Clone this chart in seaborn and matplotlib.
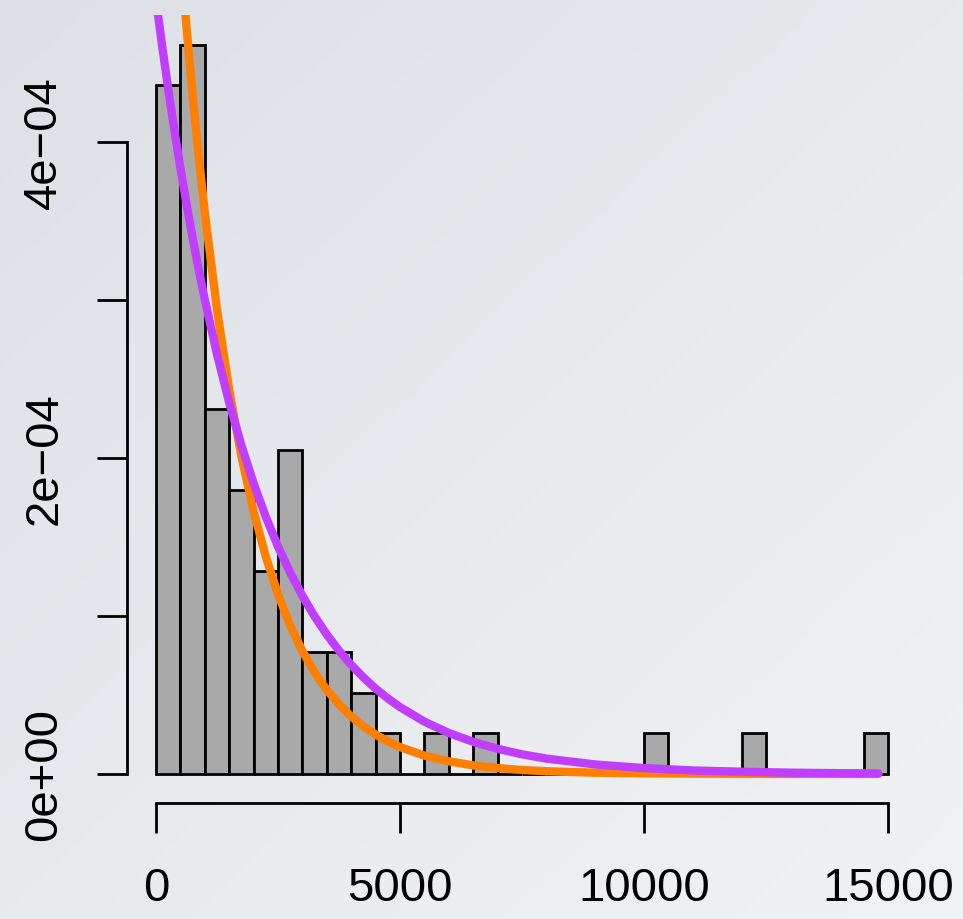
import numpy as np
import matplotlib
matplotlib.use("Agg")
import matplotlib.pyplot as plt
import seaborn as sns

# histogram bins (width 500) and counts
BIN_EDGES = list(range(0, 15001, 500))
COUNTS = [17, 18, 9, 7, 5, 8, 3, 3, 2, 1,
          0, 1, 0, 1, 0, 0, 0, 0, 0, 0,
          1, 0, 0, 0, 1, 0, 0, 0, 0, 1]

# density curves (values in units of 1e-4)
CURVE_X = [0, 125, 250, 375, 500, 625, 750, 875, 1000, 1250, 1500, 1750, 2000,
           2250, 2500, 2750, 3000, 3250, 3500, 3750, 4000, 4250, 4500, 4750,
           5000, 5500, 6000, 6500, 7000, 7500, 8000, 9000, 10000, 11000,
           12000, 13000, 14000, 14800]
ORANGE_Y = [7.600, 6.912, 6.285, 5.716, 5.198, 4.726, 4.298, 3.909, 3.554, 2.939,
            2.430, 2.010, 1.662, 1.375, 1.137, 0.940, 0.777, 0.643, 0.531, 0.440,
            0.363, 0.301, 0.249, 0.206, 0.170, 0.116, 0.080, 0.054, 0.037, 0.025,
            0.017, 0.008, 0.004, 0.002, 0.001, 0.000, 0.000, 0.000]
PURPLE_Y = [4.900, 4.609, 4.335, 4.077, 3.835, 3.607, 3.393, 3.191, 3.002, 2.656,
            2.350, 2.079, 1.839, 1.627, 1.439, 1.274, 1.127, 0.997, 0.882, 0.780,
            0.690, 0.611, 0.540, 0.478, 0.423, 0.331, 0.259, 0.203, 0.159, 0.124,
            0.097, 0.060, 0.037, 0.022, 0.014, 0.008, 0.005, 0.003]

Y_TICKS = [0, 1e-4, 2e-4, 3e-4, 4e-4]
Y_TICK_LABELS = ["0e+00", "", "2e\u221204", "", "4e\u221204"]
X_TICKS = [0, 5000, 10000, 15000]
X_TICK_LABELS = ["0", "5000", "10000", "15000"]

sns.set_style("white")
plt.rcParams["font.family"] = ["Liberation Sans", "DejaVu Sans"]

fig = plt.figure(figsize=(9.63, 9.2), dpi=100)

# slide-like soft gradient background
bg = fig.add_axes([0, 0, 1, 1], zorder=0)
gx, gy = np.meshgrid(np.linspace(0, 1, 200), np.linspace(0, 1, 200))
t = (gx + gy) / 2
c0 = np.array([221, 225, 230]) / 255
c1 = np.array([241, 242, 244]) / 255
grad = c0[None, None, :] * (1 - t[..., None]) + c1[None, None, :] * t[..., None]
bg.imshow(grad, aspect="auto", extent=[0, 1, 0, 1], origin="upper")
bg.axis("off")

ax = fig.add_axes([0.1316, 0.1259, 0.821, 0.857], zorder=1)
ax.patch.set_alpha(0)

centers = [e + 250 for e in BIN_EDGES[:-1]]
sns.histplot(x=centers, weights=COUNTS, bins=BIN_EDGES, stat="density",
             color="#A9A9A9", edgecolor="black", linewidth=2.0, alpha=1.0, ax=ax)

sns.lineplot(x=CURVE_X, y=[v * 1e-4 for v in ORANGE_Y], color="#FF7F00",
             linewidth=6, solid_capstyle="round", ax=ax)
sns.lineplot(x=CURVE_X, y=[v * 1e-4 for v in PURPLE_Y], color="#BF3EFF",
             linewidth=6, solid_capstyle="round", ax=ax)

ax.set_xlim(-600, 15600)
ax.set_ylim(-0.185e-4, 4.805e-4)
ax.set_xlabel("")
ax.set_ylabel("")

for side in ["top", "right"]:
    ax.spines[side].set_visible(False)
ax.spines["left"].set_bounds(0, 4e-4)
ax.spines["bottom"].set_bounds(0, 15000)
for side in ["left", "bottom"]:
    ax.spines[side].set_linewidth(2)
    ax.spines[side].set_color("black")

ax.set_xticks(X_TICKS)
ax.set_xticklabels(X_TICK_LABELS)
ax.set_yticks(Y_TICKS)
ax.set_yticklabels(Y_TICK_LABELS)
ax.tick_params(axis="both", direction="out", length=21.5, width=2,
               labelsize=34, colors="black", bottom=True, left=True)
ax.tick_params(axis="x", pad=24)
ax.tick_params(axis="y", pad=22)
for lab in ax.get_yticklabels():
    lab.set_rotation(90)
    lab.set_va("center")

fig.savefig("out.png", dpi=100)
